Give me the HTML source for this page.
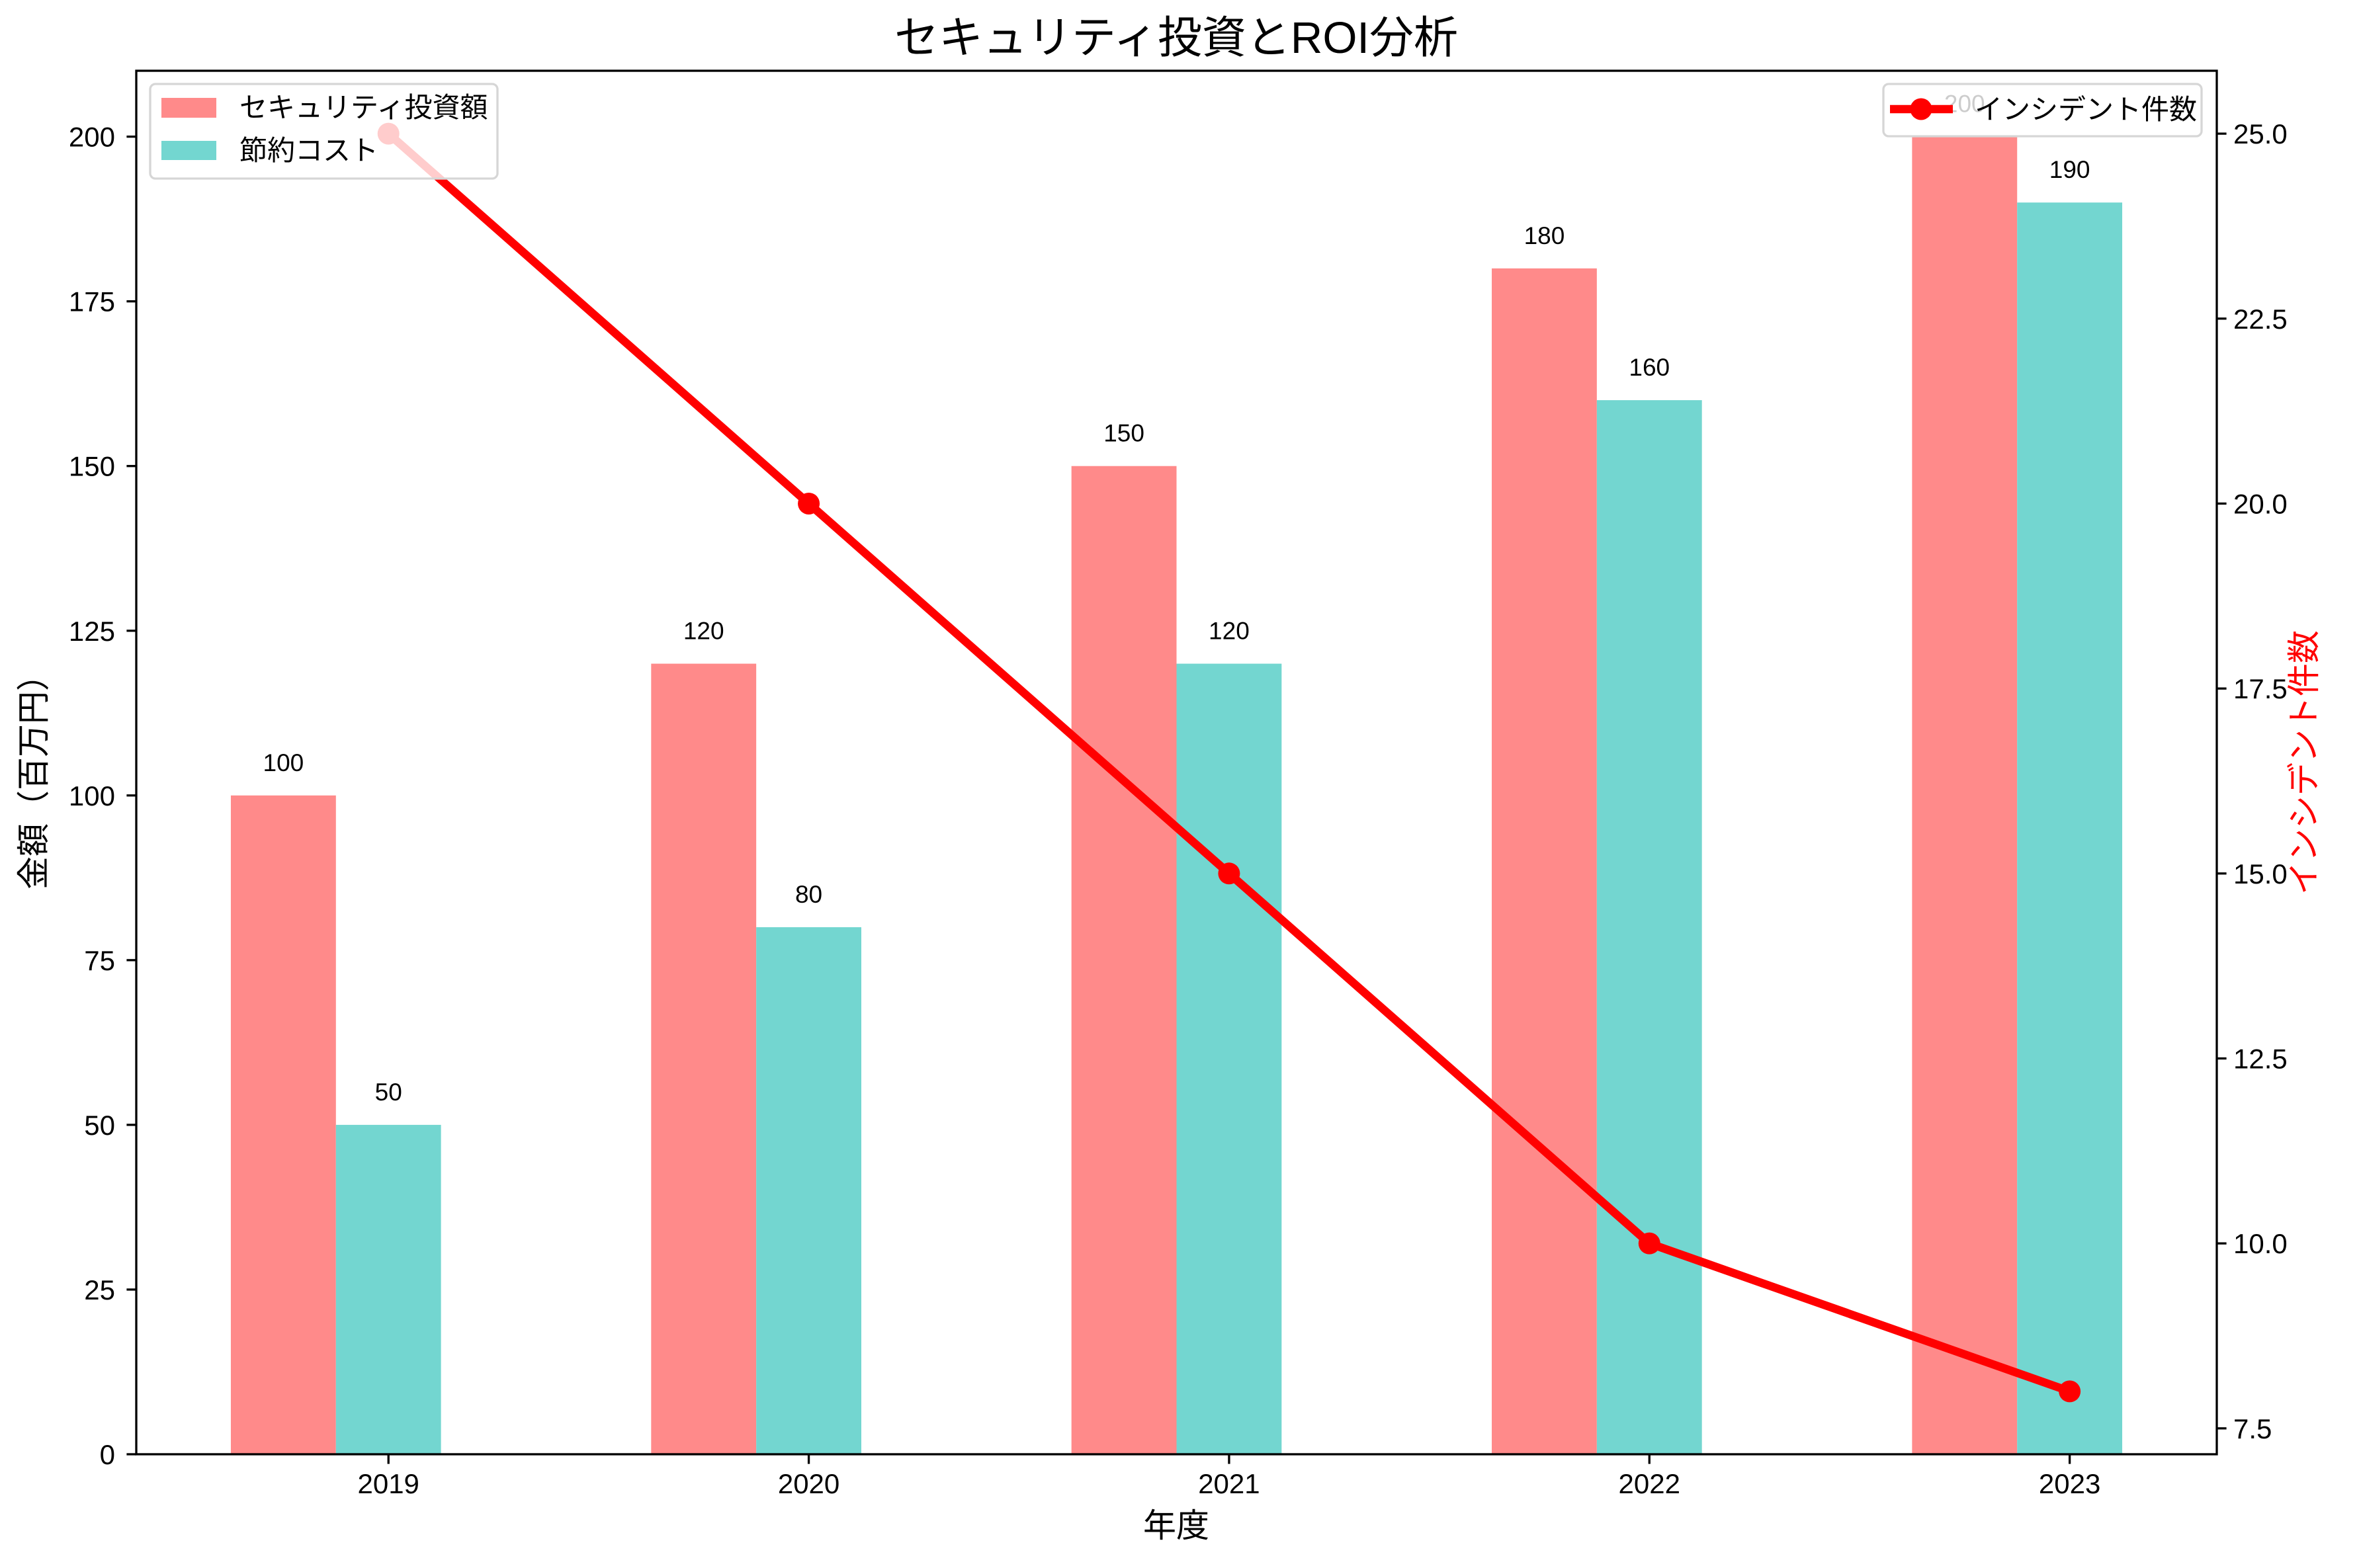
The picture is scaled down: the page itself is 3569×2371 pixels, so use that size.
<!DOCTYPE html>
<html><head><meta charset="utf-8"><style>
html,body{margin:0;padding:0;background:#fff}
svg text{font-family:"Liberation Sans","Noto Sans CJK JP",sans-serif}
</style></head><body>
<svg id="chart" xmlns="http://www.w3.org/2000/svg" width="3569" height="2366" viewBox="0 0 3569 2366">
<rect width="3569" height="2366" fill="#fff"/>
<g id="g"></g>
</svg>
<script>
const years = ["2019","2020","2021","2022","2023"];
const investment = [100,120,150,180,200];
const savings = [50,80,120,160,190];
const incidents = [25,20,15,10,8];
const leftTicks = [0,25,50,75,100,125,150,175,200];
const rightTicks = [7.5,10.0,12.5,15.0,17.5,20.0,22.5,25.0];

const NS="http://www.w3.org/2000/svg";
const g=document.getElementById('g');
const L=206,R=3351,T=107,B=2199;
const xMin=-0.6,xMax=4.35;
const X=v=>L+(v-xMin)/(xMax-xMin)*(R-L);
const Y=v=>B-v/210*(B-T);
const r0=7.15,r1=25.85;
const Y2=v=>B-(v-r0)/(r1-r0)*(B-T);
function el(tag,attrs,parent){const e=document.createElementNS(NS,tag);for(const k in attrs)e.setAttribute(k,attrs[k]);(parent||g).appendChild(e);return e;}
function txt(s,attrs){const e=el('text',attrs);e.textContent=s;return e;}
const bw=0.25;

// bars
years.forEach((y,i)=>{
  let b=el('rect',{x:X(i-bw*1.5),y:Y(investment[i]),width:X(bw)-X(0),height:B-Y(investment[i]),fill:'#ff8a8a'});
  
  
  let c=el('rect',{x:X(i-bw*0.5),y:Y(savings[i]),width:X(bw)-X(0),height:B-Y(savings[i]),fill:'#73d6d0'});
  
  
  let t1=txt(String(investment[i]),{x:X(i-bw),y:Y(investment[i])-37,'font-size':37,'text-anchor':'middle'});
  
  
  let t2=txt(String(savings[i]),{x:X(i),y:Y(savings[i])-37,'font-size':37,'text-anchor':'middle'});
  
  
});

// line
let pts=incidents.map((v,i)=>X(i)+','+Y2(v)).join(' ');
let pl=el('polyline',{points:pts,fill:'none',stroke:'#ff0000','stroke-width':12.5,'stroke-linejoin':'round'});


incidents.forEach((v,i)=>{
  let c=el('circle',{cx:X(i),cy:Y2(v),r:16.5,fill:'#ff0000'});
  
  
});

// axes frame
let fr=el('rect',{x:L,y:T,width:R-L,height:B-T,fill:'none',stroke:'#000','stroke-width':3.3});



// x ticks
years.forEach((y,i)=>{
  el('line',{x1:X(i),x2:X(i),y1:B,y2:B+14.6,stroke:'#000','stroke-width':3.3});
  let t=txt(y,{x:X(i),y:2258,'font-size':42,'text-anchor':'middle'});
  
  
});
leftTicks.forEach(v=>{
  el('line',{x1:L-14.6,x2:L,y1:Y(v),y2:Y(v),stroke:'#000','stroke-width':3.3});
  let t=txt(String(v),{x:174,y:Y(v)+15,'font-size':42,'text-anchor':'end'});
  
  
});
rightTicks.forEach(v=>{
  el('line',{x1:R,x2:R+14.6,y1:Y2(v),y2:Y2(v),stroke:'#000','stroke-width':3.3});
  let t=txt(v.toFixed(1),{x:3376,y:Y2(v)+15,'font-size':42});
  
  
});
</script>
<svg style="position:absolute;left:0;top:0" width="3569" height="2366" xmlns="http://www.w3.org/2000/svg">
<text x="1778" y="80" font-size="67" text-anchor="middle">セキュリティ投資とROI分析</text>
<text x="1778" y="2324" font-size="50" text-anchor="middle">年度</text>
<text transform="translate(68,1170) rotate(-90)" font-size="50" text-anchor="middle">金額（百万円）</text>
<text transform="translate(3500,1153) rotate(-90)" font-size="50" text-anchor="middle" fill="#ff0000">インシデント件数</text>
<g>
<rect x="227" y="127" width="525" height="143" rx="8" fill="#fff" fill-opacity="0.8" stroke="#d6d6d6" stroke-width="3.3"/>
<rect x="244" y="148" width="83" height="30" fill="#ff8a8a"/>
<text x="362" y="177" font-size="42">セキュリティ投資額</text>
<rect x="244" y="213" width="83" height="29" fill="#73d6d0"/>
<text x="362" y="242" font-size="42">節約コスト</text>
</g>
<g>
<rect x="2847" y="127" width="481" height="79" rx="8" fill="#fff" fill-opacity="0.8" stroke="#d6d6d6" stroke-width="3.3"/>
<line x1="2857" y1="165" x2="2952" y2="165" stroke="#ff0000" stroke-width="12.5"/>
<circle cx="2904" cy="165" r="16.5" fill="#ff0000"/>
<text x="2985" y="180" font-size="42">インシデント件数</text>
</g>
</svg>
</body></html>
